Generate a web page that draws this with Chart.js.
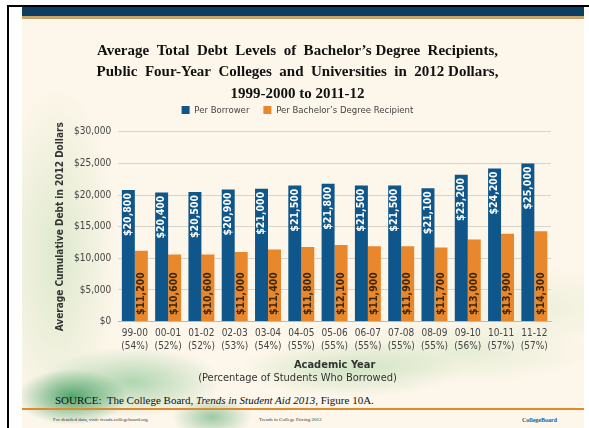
<!DOCTYPE html>
<html lang="en">
<head>
    <meta charset="UTF-8">
    <title>Average Total Debt Levels</title>
    <script src="https://cdn.jsdelivr.net/npm/chart.js"></script>
    <style>
        html, body {
            margin: 0;
            padding: 0;
            background: #fff;
        }
        #page {
            position: relative;
            width: 589px;
            height: 428px;
            overflow: hidden;
        }
        #frame {
            position: absolute;
            left: 7px;
            top: 5px;
            width: 590px;
            height: 430px;
            border-left: 2px solid #000;
            border-top: 2px solid #000;
        }
        #slide {
            position: absolute;
            left: 22px;
            top: 7px;
            width: 562px;
            height: 421px;
            background:
                radial-gradient(ellipse 55px 28px at 50px 390px, rgba(30,140,70,0.75), rgba(30,140,70,0) 100%),
                radial-gradient(ellipse 90px 35px at 110px 375px, rgba(60,165,90,0.40), rgba(60,165,90,0) 100%),
                radial-gradient(ellipse 40px 20px at 190px 410px, rgba(40,150,80,0.45), rgba(40,150,80,0) 100%),
                radial-gradient(ellipse 110px 28px at 330px 362px, rgba(110,190,110,0.30), rgba(110,190,110,0) 100%),
                radial-gradient(ellipse 60px 170px at 35px 250px, rgba(140,200,130,0.28), rgba(140,200,130,0) 100%),
                radial-gradient(ellipse 130px 30px at 440px 345px, rgba(150,205,140,0.22), rgba(150,205,140,0) 100%),
                radial-gradient(ellipse 90px 40px at 520px 300px, rgba(170,210,150,0.18), rgba(170,210,150,0) 100%),
                #fdf6ea;
        }
        #band {
            position: absolute;
            left: 0;
            top: 0;
            width: 562px;
            height: 9px;
            background: #0c3e64;
            border-bottom: 3px solid #c8a46a;
        }
        #chartBox {
            position: absolute;
            left: 22px;
            top: 19px;
            width: 562px;
            height: 375px;
        }
        #source {
            position: absolute;
            left: 33px;
            top: 387px;
            font-family: "Liberation Serif", serif;
            font-size: 11px;
            color: #111;
            white-space: nowrap;
        }
        #rule {
            position: absolute;
            left: 0;
            top: 401px;
            width: 562px;
            height: 1.5px;
            background: #e08a2c;
        }
        .foot {
            position: absolute;
            top: 410px;
            font-family: "Liberation Serif", serif;
            font-size: 5px;
            color: #333;
            white-space: nowrap;
        }
    </style>
</head>
<body>
<div id="page">
    <div id="frame"></div>
    <div id="slide">
        <div id="band"></div>
        <div id="source">SOURCE:&nbsp; The College Board, <i>Trends in Student Aid 2013</i>, Figure 10A.</div>
        <div id="rule"></div>
        <div class="foot" style="left:31px">For detailed data, visit: trends.collegeboard.org.</div>
        <div class="foot" style="left:237px">Trends in College Pricing 2013</div>
        <div class="foot" style="left:500px;color:#1c5a8c;font-weight:bold;font-size:6px">CollegeBoard</div>
    </div>
    <div id="chartBox"><canvas id="debtChart"></canvas></div>
</div>

<script>
    // values
    const years = ['99-00', '00-01', '01-02', '02-03', '03-04', '04-05', '05-06', '06-07', '07-08', '08-09', '09-10', '10-11', '11-12'];
    const borrowedPct = ['54%', '52%', '52%', '53%', '54%', '55%', '55%', '55%', '55%', '55%', '56%', '57%', '57%'];
    const perBorrower = [20800, 20400, 20500, 20900, 21000, 21500, 21800, 21500, 21500, 21100, 23200, 24200, 25000];
    const perRecipient = [11200, 10600, 10600, 11000, 11400, 11800, 12100, 11900, 11900, 11700, 13000, 13900, 14300];
    const yTicks = [0, 5000, 10000, 15000, 20000, 25000, 30000];

    const narrow = '"DejaVu Sans Condensed", "Liberation Sans Narrow", sans-serif';

    function money(v) {
        return '$' + v.toLocaleString('en-US');
    }

    // empty box between the legend and the plot
    const legendGap = {
        id: 'legendGap',
        beforeInit(chart) {
            Chart.layouts.addBox(chart, {
                position: 'top',
                weight: 0,
                fullSize: true,
                options: {},
                top: 0, bottom: 0, left: 0, right: 0, width: 0, height: 0,
                update(maxWidth) {
                    this.width = maxWidth;
                    this.height = 7;
                },
                isHorizontal() { return true; },
                draw() {}
            });
        }
    };

    // rotated value labels inside the bars
    const barLabels = {
        id: 'barLabels',
        afterDatasetsDraw(chart) {
            const ctx = chart.ctx;
            chart.data.datasets.forEach((ds, i) => {
                const meta = chart.getDatasetMeta(i);
                meta.data.forEach((bar, j) => {
                    ctx.save();
                    if (i === 0) {
                        ctx.translate(bar.x, bar.y + 3);
                        ctx.textAlign = 'right';
                        ctx.fillStyle = '#ffffff';
                    } else {
                        ctx.translate(bar.x, bar.base - 6);
                        ctx.textAlign = 'left';
                        ctx.fillStyle = '#3a2608';
                    }
                    ctx.rotate(-Math.PI / 2);
                    ctx.textBaseline = 'middle';
                    ctx.font = 'bold 10.5px ' + narrow;
                    ctx.fillText(money(ds.data[j]), 0, 0);
                    ctx.restore();
                });
            });
        }
    };

    new Chart(document.getElementById('debtChart'), {
        type: 'bar',
        data: {
            labels: years.map((y, i) => [y, '(' + borrowedPct[i] + ')']),
            datasets: [{
                label: 'Per Borrower',
                data: perBorrower,
                backgroundColor: '#0f578a',
                categoryPercentage: 0.78,
                barPercentage: 1.0
            }, {
                label: "Per Bachelor\u2019s Degree Recipient",
                data: perRecipient,
                backgroundColor: '#e8872c',
                categoryPercentage: 0.78,
                barPercentage: 1.0
            }]
        },
        options: {
            responsive: true,
            maintainAspectRatio: false,
            animation: false,
            layout: {
                padding: { left: 22, right: 33, top: 0, bottom: 0 }
            },
            plugins: {
                title: {
                    display: true,
                    text: ["Average  Total  Debt  Levels  of  Bachelor\u2019s Degree  Recipients,",
                           'Public  Four-Year  Colleges  and  Universities  in  2012 Dollars,',
                           '1999-2000 to 2011-12'],
                    color: '#111',
                    font: { family: '"Liberation Serif", serif', size: 15, weight: 'bold', lineHeight: 1.43 },
                    padding: { top: 21, bottom: -13 }
                },
                subtitle: {
                    display: true,
                    position: 'bottom',
                    text: '(Percentage of Students Who Borrowed)',
                    color: '#333',
                    font: { family: narrow, size: 11 },
                    padding: { top: 0, bottom: 9 }
                },
                legend: {
                    labels: {
                        boxWidth: 8,
                        boxHeight: 8,
                        color: '#444',
                        padding: 14,
                        font: { family: narrow, size: 9.5 }
                    }
                },
                tooltip: { enabled: false }
            },
            scales: {
                x: {
                    grid: { display: false },
                    border: { color: '#bbb' },
                    ticks: {
                        color: '#444',
                        font: { family: narrow, size: 10, lineHeight: 1.3 },
                        maxRotation: 0,
                        autoSkip: false,
                        padding: -3
                    },
                    title: {
                        display: true,
                        text: 'Academic Year',
                        color: '#333',
                        font: { family: narrow, size: 11, weight: 'bold' },
                        padding: { top: 9, bottom: 0 }
                    }
                },
                y: {
                    min: 0,
                    max: 30000,
                    afterBuildTicks(axis) {
                        axis.ticks = yTicks.map(v => ({ value: v }));
                    },
                    grid: { color: '#d8d4cc', drawTicks: false },
                    border: { display: false },
                    ticks: {
                        color: '#444',
                        padding: 7,
                        font: { family: narrow, size: 10 },
                        callback: v => money(v)
                    },
                    title: {
                        display: true,
                        text: 'Average Cumulative Debt in 2012 Dollars',
                        color: '#333',
                        font: { family: narrow, size: 10, weight: 'bold' },
                        padding: { top: 10, bottom: 1 }
                    }
                }
            }
        },
        plugins: [legendGap, barLabels]
    });
</script>
</body>
</html>
